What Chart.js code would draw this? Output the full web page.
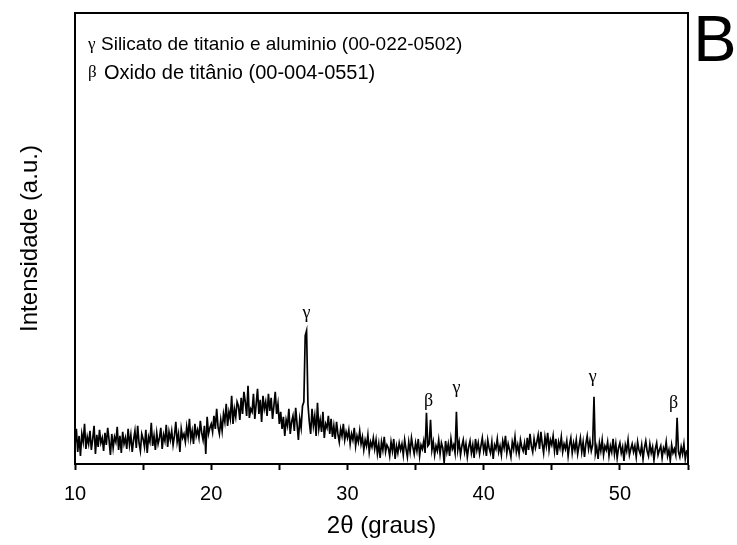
<!DOCTYPE html>
<html lang="pt">

<head>
    <meta charset="UTF-8">
    <title>DRX B</title>
    <style>
        body {
            margin: 0;
            background: #fff;
        }

        #wrap {
            width: 737px;
            height: 545px;
        }
    </style>
    <script src="https://cdn.jsdelivr.net/npm/chart.js"></script>
</head>

<body>
    <div id="wrap"><canvas id="xrd" width="737" height="545"></canvas></div>
    <script>
        // 2theta grid: 10.0 .. 55.0 every 0.1 degree
        var angleStart = 10;
        var angleStep = 0.1;

        // intensidade (a.u.), one row per degree
        var intensity = [
            18, 35, 12, 28, 8, 30, 22, 40, 15, 27,      // 10
            20, 33, 14, 25, 38, 10, 29, 17, 34, 21,     // 11
            26, 13, 31, 19, 36, 24, 9, 30, 16, 27,      // 12
            22, 37, 14, 28, 11, 32, 20, 26, 15, 35,     // 13
            19, 29, 12, 24, 33, 16, 38, 21, 13, 30,     // 14
            25, 17, 34, 11, 27, 22, 41, 18, 28, 14,     // 15
            31, 20, 26, 36, 15, 29, 23, 39, 17, 32,     // 16
            24, 33, 19, 28, 42, 22, 30, 12, 35, 26,     // 17
            30, 22, 37, 27, 45, 25, 33, 20, 40, 28,     // 18
            34, 26, 43, 31, 24, 38, 10, 47, 30, 36,     // 19
            40, 32, 48, 35, 55, 37, 30, 44, 33, 50,     // 20
            42, 60, 38, 52, 45, 68, 40, 55, 47, 62,     // 21
            58, 44, 66, 50, 72, 62, 48, 78, 46, 55,     // 22
            52, 70, 45, 60, 75, 50, 64, 42, 68, 55,     // 23
            62, 48, 70, 53, 66, 45, 58, 72, 50, 60,     // 24
            40, 52, 35, 47, 28, 44, 38, 55, 30, 42,     // 25
            48, 33, 56, 40, 24, 45, 36, 58, 62, 128,    // 26
            133, 60, 42, 30, 55, 38, 48, 28, 61, 35,    // 27
            44, 32, 52, 26, 40, 36, 48, 30, 45, 27,     // 28
            38, 25, 42, 30, 22, 35, 28, 40, 24, 32,     // 29
            26, 34, 20, 30, 24, 36, 18, 28, 22, 33,     // 30
            20, 27, 14, 24, 18, 29, 12, 22, 17, 26,     // 31
            15, 24, 10, 20, 6, 22, 14, 27, 12, 19,      // 32
            16, 8, 22, 13, 25, 5, 18, 11, 21, 14,       // 33
            20, 9, 24, 15, 7, 22, 12, 26, 17, 10,       // 34
            21, 13, 25, 8, 19, 15, 23, 11, 51, 18,      // 35
            20, 44, 14, 22, 9, 18, 13, 24, 10, 21,      // 36
            16, 1, 23, 12, 20, 8, 25, 15, 19, 11,       // 37
            52, 14, 22, 9, 18, 24, 12, 20, 7, 17,       // 38
            23, 11, 19, 6, 25, 14, 21, 10, 18, 26,      // 39
            13, 20, 8, 24, 16, 11, 22, 5, 19, 15,       // 40
            25, 12, 18, 9, 23, 16, 28, 11, 20, 14,      // 41
            7, 22, 15, 27, 12, 19, 10, 24, 17, 13,      // 42
            21, 9, 26, 14, 30, 18, 12, 25, 16, 22,      // 43
            29, 15, 32, 20, 11, 27, 18, 31, 14, 24,     // 44
            19, 28, 13, 25, 9, 22, 16, 27, 12, 20,      // 45
            15, 23, 8, 19, 26, 11, 21, 14, 24, 10,      // 46
            18, 26, 12, 22, 7, 20, 28, 15, 23, 13,      // 47
            19, 67, 10, 17, 5, 21, 13, 24, 9, 18,       // 48
            14, 22, 8, 18, 12, 25, 10, 20, 6, 16,       // 49
            21, 11, 17, 3, 19, 13, 24, 9, 15, 20,       // 50
            12, 18, 7, 22, 14, 10, 19, 5, 16, 23,       // 51
            13, 8, 20, 11, 17, 4, 15, 21, 9, 14,        // 52
            18, 6, 16, 12, 22, 8, 14, 3, 19, 11,        // 53
            15, 9, 46, 12, 7, 17, 10, 20, 5, 13,        // 54
            14                                          // 55
        ];

        // peak markers (fase + posicao)
        var peakSymbols = ['γ', 'β', 'γ', 'γ', 'β'];
        var peakAngles = [27.0, 35.95, 38.0, 48.0, 53.95];
        var peakLabelLevels = [150, 63, 76, 87, 61];

        // legenda das fases
        var phaseSymbols = ['γ', 'β'];
        var phaseNames = ['Silicato de titanio e aluminio (00-022-0502)', 'Oxido de titânio (00-004-0551)'];

        var xTicksMin = 10;
        var xTicksMax = 55;
        var xTickStep = 5;

        var points = [];
        for (var i = 0; i < intensity.length; i++) {
            points.push({ x: +(angleStart + i * angleStep).toFixed(2), y: intensity[i] });
        }

        var sans = "'Liberation Sans', Arial, sans-serif";
        var serif = "'Liberation Serif', 'Times New Roman', serif";

        var extras = {
            id: 'extras',
            afterDraw: function (chart) {
                var ctx = chart.ctx;
                var a = chart.chartArea;
                var xs = chart.scales.x;
                var ys = chart.scales.y;
                ctx.save();
                // frame
                ctx.strokeStyle = '#000';
                ctx.lineWidth = 2;
                ctx.strokeRect(a.left, a.top, a.right - a.left, a.bottom - a.top);

                // peak labels
                ctx.fillStyle = '#000';
                ctx.textAlign = 'center';
                ctx.textBaseline = 'middle';
                ctx.font = '18px ' + serif;
                for (var i = 0; i < peakSymbols.length; i++) {
                    ctx.fillText(peakSymbols[i], xs.getPixelForValue(peakAngles[i]), ys.getPixelForValue(peakLabelLevels[i]));
                }

                // legend
                ctx.textAlign = 'left';
                for (var j = 0; j < phaseSymbols.length; j++) {
                    var ly = a.top + 32 + j * 28;
                    ctx.font = '17px ' + serif;
                    ctx.fillText(phaseSymbols[j], a.left + 13, ly);
                    ctx.font = (j === 0 ? '19px ' : '20px ') + sans;
                    ctx.fillText(phaseNames[j], a.left + (j === 0 ? 26 : 29), ly);
                }

                // panel letter
                ctx.font = '65px ' + sans;
                ctx.textAlign = 'center';
                ctx.fillText('B', 715, 43);
                ctx.restore();
            }
        };

        new Chart(document.getElementById('xrd'), {
            type: 'line',
            data: {
                datasets: [{
                    data: points,
                    borderColor: '#000',
                    borderWidth: 1.7,
                    pointRadius: 0,
                    tension: 0,
                    fill: false
                }]
            },
            options: {
                responsive: false,
                animation: false,
                events: [],
                layout: {
                    padding: { top: 13, right: 49, bottom: 0, left: 0 }
                },
                plugins: {
                    legend: { display: false },
                    tooltip: { enabled: false }
                },
                scales: {
                    x: {
                        type: 'linear',
                        min: xTicksMin,
                        max: xTicksMax,
                        border: { display: true, color: '#000', width: 2 },
                        grid: {
                            drawOnChartArea: false,
                            drawTicks: true,
                            tickLength: 6,
                            tickWidth: 2,
                            tickColor: '#000'
                        },
                        ticks: {
                            stepSize: xTickStep,
                            autoSkip: false,
                            maxRotation: 0,
                            padding: 12,
                            color: '#000',
                            font: { family: sans, size: 20 },
                            callback: function (v) { return v % 10 === 0 ? v : ''; }
                        },
                        title: {
                            display: true,
                            text: '2θ (graus)',
                            color: '#000',
                            font: { family: sans, size: 24 },
                            padding: { top: -6.4, bottom: 4.6 }
                        }
                    },
                    y: {
                        min: 0,
                        max: 450,
                        border: { display: false },
                        grid: { display: false },
                        ticks: { display: false },
                        title: {
                            display: true,
                            text: 'Intensidade (a.u.)',
                            color: '#000',
                            font: { family: sans, size: 24 },
                            padding: { top: 16, bottom: 22.2 }
                        }
                    }
                }
            },
            plugins: [extras]
        });
    </script>
</body>

</html>
